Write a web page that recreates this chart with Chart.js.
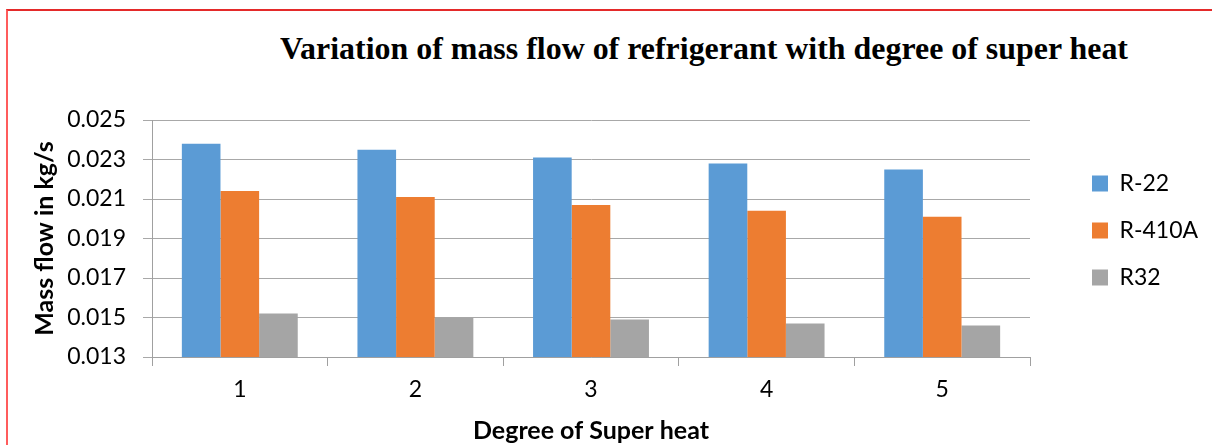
<!DOCTYPE html>
<html>
<head>
<meta charset="utf-8">
<script src="https://cdn.jsdelivr.net/npm/chart.js@4.4.1/dist/chart.umd.min.js"></script>
<style>
  html, body { margin: 0; padding: 0; background: #fff; }
  #wrap { position: relative; width: 1212px; height: 445px; overflow: hidden; }
  #frame { position: absolute; left: 6px; top: 9px; width: 1300px; height: 500px;
           border-top: 2px solid #e42a2a; border-left: 2px solid #ff5c5c; box-sizing: border-box; }
  #title { position: absolute; left: 280px; top: 31px; transform-origin: 0 0;
           font-family: "Liberation Serif", "Times New Roman", serif; font-weight: bold;
           font-size: 31px; color: #000; white-space: nowrap; display: inline-block; }
  canvas { position: absolute; left: 0; top: 0; }
</style>
</head>
<body>
<div id="wrap">
  <div id="frame"></div>
  <div id="title">Variation of mass flow of refrigerant with degree of super heat</div>
  <canvas id="c" width="1212" height="445"></canvas>
</div>
<script>
const categories = ["1", "2", "3", "4", "5"];
const seriesNames = ["R-22", "R-410A", "R32"];
const r22 = [0.0238, 0.0235, 0.0231, 0.0228, 0.0225];
const r410a = [0.0214, 0.0211, 0.0207, 0.0204, 0.0201];
const r32 = [0.0152, 0.0150, 0.0149, 0.0147, 0.0146];
const yMin = 0.013, yMax = 0.025, yStep = 0.002;
const colors = ["#5B9BD5", "#ED7D31", "#A5A5A5"];

// stretch title to the reference's width
const t = document.getElementById("title");
const tw = t.getBoundingClientRect().width;
t.style.transform = "scaleX(" + (848 / tw) + ")";

const fontFam = "Lato, 'Open Sans', sans-serif";
const LEG_PAD = 24;
const legendPlace = {
  id: "legendPlace",
  beforeLayout(chart) {
    const lg = chart.legend;
    if (lg && !lg._patched) {
      const orig = lg.fit.bind(lg);
      lg.fit = function () { orig(); this.width = 182; };
      lg._patched = true;
    }
  },
  afterLayout(chart) {
    const lg = chart.legend;
    if (!lg) return;
    lg.left = 1092 - LEG_PAD; lg.right = lg.left + lg.width;
    lg.top = 148; lg.bottom = 445;
  }
};

new Chart(document.getElementById("c"), {
  type: "bar",
  data: {
    labels: categories,
    datasets: [r22, r410a, r32].map((d, i) => ({
      label: seriesNames[i], data: d, backgroundColor: colors[i],
      borderWidth: 0, categoryPercentage: 0.66, barPercentage: 1.0
    }))
  },
  plugins: [legendPlace],
  options: {
    responsive: false, animation: false, devicePixelRatio: 1,
    layout: { padding: { left: 20, top: 120, right: 0, bottom: 0 } },
    plugins: {
      legend: {
        position: "right", align: "start",
        labels: { boxWidth: 16, boxHeight: 16, padding: LEG_PAD, color: "#000",
                  font: { family: fontFam, size: 23 } }
      },
      tooltip: { enabled: false }
    },
    scales: {
      x: {
        grid: { drawOnChartArea: false, drawTicks: true, tickLength: 9, color: "#a0a0a0" },
        border: { color: "#a0a0a0" },
        ticks: { color: "#000", padding: 10, font: { family: fontFam, size: 23 } },
        title: { display: true, text: "Degree of Super heat", color: "#000",
                 font: { family: fontFam, size: 25, weight: "bold", lineHeight: 1.1 },
                 padding: { top: 0, bottom: 0 } },
        afterFit: s => { s.height = 88; }
      },
      y: {
        min: yMin, max: yMax,
        grid: { color: "#a8a8a8", tickLength: 9, drawTicks: true },
        border: { color: "#a0a0a0" },
        ticks: { stepSize: yStep, color: "#000", padding: 17,
                 font: { family: fontFam, size: 23 },
                 callback: v => Number(v).toFixed(3) },
        title: { display: true, text: "Mass flow in kg/s", color: "#000",
                 font: { family: fontFam, size: 25, weight: "bold" }, padding: { top: 10, bottom: 0 } },
        afterFit: s => { s.width = 132; }
      }
    }
  }
});
</script>
</body>
</html>
